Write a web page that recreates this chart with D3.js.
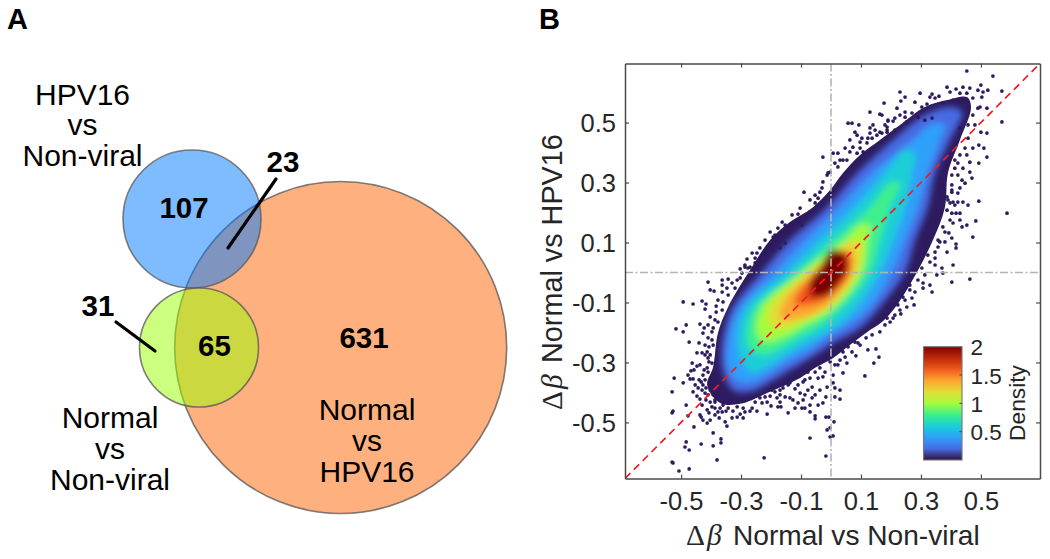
<!DOCTYPE html>
<html><head><meta charset="utf-8">
<style>html,body{margin:0;padding:0;background:#fff}svg{display:block}text{font-family:"Liberation Sans",Arial,sans-serif}</style>
<script src="https://cdn.jsdelivr.net/npm/d3@7/dist/d3.min.js"></script>
</head><body><svg id="c" width="1050" height="559"></svg>
<script>
// ---------- Panel A data ----------
const vennSets = ["Normal vs HPV16", "HPV16 vs Non-viral", "Normal vs Non-viral"];
const vennRegionLabels = ["107", "23", "31", "65", "631"];

// ---------- Panel B data ----------
const xTicks = [-0.5, -0.3, -0.1, 0.1, 0.3, 0.5];
const yTicks = [-0.5, -0.3, -0.1, 0.1, 0.3, 0.5];
const xDomain = [-0.687, 0.697];
const yDomain = [-0.687, 0.697];
const colorbarTicks = [0.5, 1, 1.5, 2];
const turboStops = ["#30123b","#466be3","#2fa0fa","#1acfd6","#3cf08c","#a4fc3c","#e1dd37","#fea531","#f05a1d","#be280a","#7a0403"];

// Iso-density outlines (delta-beta x, delta-beta y)
const densityLevels = [0.04, 0.2, 0.4, 0.6, 0.8, 1.0, 1.2, 1.4, 1.6, 1.8, 2.0];
const contour004 = [[-.413,-.375],[-.37,-.435],[-.303,-.438],[-.213,-.402],[-.103,-.352],[-.053,-.318],[.007,-.285],[.063,-.242],[.13,-.192],[.17,-.165],[.22,-.108],[.287,.002],[.34,.108],[.38,.218],[.39,.332],[.43,.442],[.467,.552],[.453,.585],[.387,.575],[.313,.552],[.23,.492],[.163,.442],[.097,.392],[.04,.332],[-.003,.275],[-.06,.218],[-.137,.168],[-.203,.108],[-.27,.008],[-.343,-.115],[-.377,-.202],[-.393,-.315]];
const contour02 = [[-.363,-.315],[-.327,-.392],[-.27,-.398],[-.203,-.365],[-.12,-.315],[-.053,-.275],[.013,-.232],[.097,-.185],[.163,-.115],[.247,.002],[.28,.108],[.323,.218],[.347,.332],[.397,.442],[.437,.535],[.397,.552],[.313,.525],[.207,.442],[.087,.332],[-.013,.218],[-.137,.108],[-.23,.002],[-.327,-.115],[-.357,-.202]];
const contour04 = [[-.343,-.315],[-.31,-.362],[-.253,-.362],[-.153,-.302],[-.07,-.258],[-.003,-.208],[.057,-.175],[.13,-.115],[.203,.002],[.247,.108],[.29,.218],[.323,.332],[.363,.442],[.38,.492],[.33,.492],[.28,.448],[.137,.332],[.03,.218],[-.087,.108],[-.187,.002],[-.303,-.115],[-.337,-.202]];
const contour06 = [[-.31,-.202],[-.297,-.292],[-.263,-.332],[-.203,-.308],[-.137,-.265],[-.063,-.225],[.007,-.185],[.087,-.115],[.163,.002],[.207,.108],[.247,.218],[.27,.332],[.28,.392],[.247,.408],[.18,.332],[.08,.218],[-.037,.108],[-.147,.002],[-.28,-.115]];
const contour08 = [[-.28,-.202],[-.27,-.252],[-.23,-.275],[-.177,-.258],[-.103,-.215],[-.047,-.185],[.04,-.115],[.13,.002],[.163,.108],[.197,.218],[.23,.298],[.197,.298],[.13,.218],[.007,.108],[-.113,.002],[-.253,-.115]];
const contour10 = [[-.247,-.202],[-.22,-.232],[-.163,-.218],[-.103,-.185],[.013,-.115],[.103,.002],[.123,.108],[.13,.158],[.097,.158],[.047,.108],[-.093,.002],[-.23,-.115]];
const contour12 = [[-.203,-.175],[-.153,-.185],[-.103,-.165],[-.003,-.115],[.09,.002],[.097,.108],[.073,.108],[-.077,.002],[-.203,-.115]];
const contour14 = [[-.17,-.152],[-.103,-.152],[-.02,-.115],[.073,.002],[.07,.075],[.04,.075],[-.06,.002],[-.153,-.092]];
const contour16 = [[-.12,-.108],[-.07,-.108],[-.02,-.092],[.063,.002],[.057,.058],[.013,.058],[-.043,.002],[-.103,-.058]];
const contour18 = [[-.077,-.082],[-.02,-.075],[.053,.002],[.05,.065],[.003,.065],[-.037,.002]];
const contour20 = [[-.063,-.072],[-.017,-.078],[.05,.008],[.047,.058],[.003,.075],[-.037,.015],[-.067,-.025]];

// Individually visible low-density points
const sparsePoints = [
[-.473,-.232],[-.44,-.235],[-.447,-.268],[-.43,-.268],[-.463,-.302],[-.447,-.312],[-.467,-.328],[-.457,-.325],[-.477,-.342],[-.523,-.352],[-.47,-.355],[-.46,-.355],[-.493,-.368],[-.453,-.375],[-.443,-.385],[-.53,-.398],[-.46,-.398],[-.43,-.392],[-.447,-.412],[-.437,-.422],[-.483,-.442],[-.527,-.462],[-.53,-.468],[-.477,-.478],[-.437,-.475],[-.433,-.482],[-.413,-.458],[-.407,-.468],[-.427,-.492],[-.413,-.502],[-.403,-.492],[-.387,-.475],[-.373,-.485],[-.353,-.498],[-.347,-.512],[-.33,-.485],[-.313,-.482],[-.293,-.485],[-.457,-.515],[-.393,-.535],[-.367,-.555],[-.367,-.568],[-.433,-.572],[-.393,-.578],[-.483,-.565],[-.487,-.582],[-.473,-.592],[-.38,-.625],[-.53,-.632],[-.527,-.635],[-.507,-.662],[-.473,-.655],[-.223,-.618],[-.413,-.265],[-.41,-.285],[-.397,-.302],[-.413,-.318],[-.42,-.358],[-.397,-.368],[-.41,-.408],[-.397,-.448],[-.377,-.465],[-.363,-.465],[-.343,-.452],[-.313,-.448],[-.293,-.452],[-.263,-.452],[-.247,-.462],[-.213,-.472],[-.36,-.442],[-.387,-.425],[-.42,-.402],
[-.2,-.445],[-.177,-.448],[-.167,-.448],[-.143,-.468],[-.12,-.452],[-.11,-.435],[-.097,-.452],[-.087,-.452],[-.07,-.465],[-.053,-.478],[-.053,-.488],[-.017,-.482],[-.007,-.482],[.01,-.498],[-.003,-.518],[-.013,-.525],[.007,-.545],[-.003,-.548],[-.07,-.552],[-.017,-.612],[-.07,-.442],[-.043,-.442],[-.027,-.435],[-.093,-.425],[-.127,-.425],[-.153,-.415],[-.17,-.408],[-.18,-.418],[-.213,-.432],[-.23,-.435],[-.22,-.415],[-.197,-.392],[-.17,-.392],[-.143,-.375],[-.12,-.388],[-.103,-.402],[-.087,-.408],[-.063,-.382],[-.037,-.392],[-.013,-.382],[.013,-.385],[.03,-.392],[.013,-.415],[.03,-.422],[.007,-.368],[.007,-.342],[.04,-.335],[.113,-.345],[.143,-.302],[.16,-.282],[.15,-.255],[.083,-.278],[.053,-.302],[.03,-.292],[.013,-.308],[.09,-.235],[.057,-.248],[.04,-.265],[.023,-.252],[.08,-.232],[-.07,-.352],[-.093,-.365],[-.043,-.352],[-.027,-.348],[-.053,-.408],
[-.493,-.098],[-.46,-.105],[-.43,-.095],[-.417,-.105],[-.42,-.122],[-.517,-.188],[-.493,-.198],[-.483,-.175],[-.437,-.172],[-.423,-.185],[-.427,-.202],[-.41,-.032],[-.403,-.058],[-.39,-.062],[-.363,-.025],[-.343,-.022],[-.363,-.042],[-.33,-.035],[-.313,-.025],[-.303,.012],[-.287,.025],[-.28,.045],[-.263,.065],[-.247,.065],[-.287,.018],[-.27,.018],[-.253,.032],[-.197,.092],[-.187,.108],[-.17,.132],[-.187,.125],[-.193,.075],[-.153,.098],[-.17,.082],[-.383,-.112],[-.377,-.092],[-.363,-.065],[-.383,-.132],[-.403,-.148],[-.387,-.158],[-.41,-.175],[-.397,-.198],[-.42,-.242],[-.41,-.218],[-.36,-.098],[-.347,-.052],[-.297,-.002],[-.237,.048],[-.22,.065],
[-.027,.385],[-.09,.268],[-.163,.168],[-.11,.195],[-.127,.165],[-.193,.118],[.13,.535],[.163,.528],[.19,.508],[.057,.498],[.07,.498],[.093,.492],[.13,.482],[.14,.492],[.187,.485],[.08,.468],[.087,.458],[.063,.442],[.097,.435],[.023,.398],[.007,.398],[.03,.375],[.047,.415],[.073,.418],[.12,.432],[.137,.448],[.153,.458],[.17,.465],[.187,.468],[-.013,.325],[-.027,.302],[-.037,.268],[-.053,.232],[-.043,.248],[-.07,.202],[-.087,.185],[-.097,.158],[-.143,.132],[-.01,.332],[.013,.365],[.053,.375],[.087,.398],[.107,.402],[.103,.448],[.13,.465],
[.453,.672],[.54,.655],[.5,.625],[.57,.605],[.387,.618],[.417,.612],[.44,.618],[.297,.598],[.23,.602],[.247,.585],[.233,.572],[.337,.595],[.36,.588],[.347,.582],[.177,.565],[.22,.548],[.17,.525],[.19,.505],[.207,.505],[.23,.525],[.303,.552],[.32,.562],[.373,.565],[.407,.575],[.453,.598],[.49,.608],[.507,.602],[.523,.608],[.503,.585],[.473,.582],[.497,.552],[.52,.548],[.57,.502],[.5,.468],[.52,.465],[.493,.425],[.51,.415],[.52,.385],[.493,.365],[.463,.335],[.47,.315],[.447,.298],[.43,.282],[.403,.275],[.363,.315],[.37,.292],[.413,.415],[.43,.392],[.423,.365],[.453,.392],[.463,.368],[.413,.348],[.44,.348],[.403,.325],[.437,.308],[.27,.532],[.247,.518],[.29,.518],[.313,.508],[.337,.515],[.213,.475],[.187,.475],[.163,.468],[.253,.502],
[.493,.238],[.587,.198],[.483,.172],[.473,.118],[.417,.095],[.417,.082],[.407,.025],[.463,-.022],[.403,-.032],[.337,-.065],[.307,-.052],[.28,-.065],[.277,-.108],[.253,-.115],[.233,-.138],[.207,-.152],[.187,-.152],[.457,.225],[.44,.235],[.423,.235],[.407,.235],[.43,.198],[.417,.198],[.403,.198],[.43,.175],[.407,.165],[.453,.158],[.437,.152],[.393,.132],[.38,.102],[.387,.068],[.363,.102],[.347,.068],[.37,.015],[.347,.025],[.373,-.002],[.353,-.008],[.33,-.042],[.307,-.035],[.263,-.058],[.24,-.082],[.223,-.108],[.187,-.115],[.423,.265],[.403,.268],[.387,.252],[.397,.232],[.387,.208],[.373,.152],[.357,.085]
];

// Dense points hugging the edge of the cloud
const edgePoints = [
[-.397,-.225],[-.407,-.248],[-.42,-.275],[-.41,-.332],[-.427,-.342],[-.433,-.365],[-.417,-.385],[-.427,-.375],[-.403,-.392],[-.393,-.408],[-.417,-.425],[-.403,-.432],[-.387,-.452],[-.37,-.452],[-.35,-.462],[-.327,-.462],[-.303,-.472],[-.287,-.465],[-.27,-.462],[-.393,-.242],[-.403,-.275],[-.407,-.298],[-.437,-.308],[-.423,-.325],[-.44,-.358],[-.387,-.432],[-.43,-.442],
[-.253,-.432],[-.237,-.418],[-.203,-.412],[-.187,-.398],[-.16,-.385],[-.137,-.368],[-.11,-.375],[-.087,-.358],[-.077,-.332],[-.053,-.332],[-.037,-.318],[-.02,-.332],[-.003,-.298],[.023,-.308],[.047,-.282],[-.137,-.418],[-.17,-.432],[-.063,-.418],[-.077,-.392],[-.017,-.415],[.07,-.265],[.097,-.242],[.117,-.218],[.137,-.208],[.163,-.198],[.18,-.175],[.197,-.165],[.213,-.142],[.123,-.258],
[.23,-.125],[.247,-.092],[.27,-.085],[.263,-.042],[.29,-.025],[.313,-.008],[.303,.015],[.33,.035],[.323,.058],[.347,.048],[.357,.108],[.38,.135],[.403,.115],[.397,.175],[.413,.225],[.39,.242],[.403,.292],[.423,.325],[.413,.375],[.447,.415],[.43,.482],[.457,.492],[.473,.525],[.49,.548],[.48,.492],[.457,.448],[.473,.415],
[.247,.535],[.213,.515],[.18,.492],[.147,.475],[.123,.448],[.097,.415],[.063,.402],[.04,.375],[.023,.352],[-.003,.335],[-.03,.282],[-.053,.258],[-.07,.242],[-.103,.215],[-.13,.192],[-.153,.158],[-.177,.148],[-.203,.135],[-.22,.108],[-.237,.082],[-.253,.048],[-.277,.015],[-.303,-.018],[-.32,-.052],[-.343,-.075],[-.363,-.125],[-.377,-.165],[-.393,-.185],[.33,.585],[.28,.568],[.397,.602],[.43,.598],[.463,.615]
];

const densityContours = [contour004,contour02,contour04,contour06,contour08,contour10,contour12,contour14,contour16,contour18,contour20];

// ---------- Drawing ----------
const svg = d3.select("#c");
const ink = "#262626";

// --- Panel letters
svg.append("text").attr("x",7).attr("y",29).attr("font-size",29).attr("font-weight","bold").attr("fill","#000").text("A");
svg.append("text").attr("x",539).attr("y",29).attr("font-size",29).attr("font-weight","bold").attr("fill","#000").text("B");

// --- Venn (layout, in page pixels; order = vennSets)
const vennLayout = [
  {cx:340.7, cy:347.5, r:166, fill:"#ff6100"},
  {cx:192,   cy:219,   r:69,  fill:"#007aff"},
  {cx:199,   cy:347.5, r:59.5,fill:"#99ff00"}
];
const gA = svg.append("g");
gA.selectAll("circle").data(vennSets).join("circle")
  .attr("cx",(d,i)=>vennLayout[i].cx).attr("cy",(d,i)=>vennLayout[i].cy).attr("r",(d,i)=>vennLayout[i].r)
  .attr("fill",(d,i)=>vennLayout[i].fill).attr("fill-opacity",0.5)
  .attr("stroke","#555").attr("stroke-opacity",0.75).attr("stroke-width",1.6);

const leaders = [[276,179,228,248],[116,322,155,351]];
gA.selectAll("line").data(leaders).join("line")
  .attr("x1",d=>d[0]).attr("y1",d=>d[1]).attr("x2",d=>d[2]).attr("y2",d=>d[3])
  .attr("stroke","#000").attr("stroke-width",3.2).attr("stroke-linecap","round");

const regionPos = [[184,218],[283,172],[98,316],[214.5,356],[364,347.5]];
gA.selectAll("text.n").data(vennRegionLabels).join("text").attr("class","n")
  .attr("x",(d,i)=>regionPos[i][0]).attr("y",(d,i)=>regionPos[i][1])
  .attr("text-anchor","middle").attr("font-size",29.5).attr("font-weight","bold").attr("fill","#000").text(d=>d);

const setLabelPos = [[367,[420,450.5,481.5]],[82.5,[105,135,165.5]],[110,[428,459,490]]];
vennSets.forEach((s,i)=>{
  const parts = s.split(" vs ");
  const lines = [parts[0],"vs",parts[1]];
  lines.forEach((t,j)=>{
    gA.append("text").attr("x",setLabelPos[i][0]).attr("y",setLabelPos[i][1][j])
      .attr("text-anchor","middle").attr("font-size",30).attr("fill","#000").text(t);
  });
});

// --- Scatter panel
const plot = {l:625, r:1040, t:63.5, b:478.5};
const x = d3.scaleLinear().domain(xDomain).range([plot.l,plot.r]);
const y = d3.scaleLinear().domain(yDomain).range([plot.b,plot.t]);
const color = d3.scaleLinear().domain(d3.range(turboStops.length).map(i=>i*0.2)).range(turboStops).interpolate(d3.interpolateRgb);

const defs = svg.append("defs");
const blur = defs.append("filter").attr("id","soft").attr("x","-30%").attr("y","-30%").attr("width","160%").attr("height","160%");
blur.append("feGaussianBlur").attr("stdDeviation",3.4);
const shape = d3.line().x(d=>x(d[0])).y(d=>y(d[1])).curve(d3.curveCatmullRomClosed.alpha(0.5));
defs.append("clipPath").attr("id","outer").append("path").attr("d",shape(contour004));
defs.append("clipPath").attr("id","frame").append("rect").attr("x",plot.l).attr("y",plot.t).attr("width",plot.r-plot.l).attr("height",plot.b-plot.t);

const gB = svg.append("g");
const pointColor = "#2e1b5f";
gB.append("path").attr("d",shape(contour004)).attr("fill",pointColor);
gB.append("g").attr("clip-path","url(#outer)")
  .append("g").attr("filter","url(#soft)")
  .selectAll("path").data(densityContours.slice(1)).join("path")
  .attr("d",shape).attr("fill",(d,i)=>color(densityLevels[i+1]));

gB.append("g").selectAll("circle").data(sparsePoints.concat(edgePoints)).join("circle")
  .attr("cx",d=>x(d[0])).attr("cy",d=>y(d[1])).attr("r",1.85).attr("fill",pointColor);

// reference lines
const refs = gB.append("g").attr("clip-path","url(#frame)");
refs.append("line").attr("x1",x(0)).attr("x2",x(0)).attr("y1",plot.t).attr("y2",plot.b)
  .attr("stroke","#b4b4b4").attr("stroke-width",1.6).attr("stroke-dasharray","8 2.5 2 2.5");
refs.append("line").attr("y1",y(0)).attr("y2",y(0)).attr("x1",plot.l).attr("x2",plot.r)
  .attr("stroke","#b4b4b4").attr("stroke-width",1.6).attr("stroke-dasharray","8 2.5 2 2.5");
refs.append("line").attr("x1",x(xDomain[0])).attr("y1",y(yDomain[0])).attr("x2",x(xDomain[1])).attr("y2",y(yDomain[1]))
  .attr("stroke","#ee1c25").attr("stroke-width",1.7).attr("stroke-dasharray","7.5 5");

// frame + axes
function styleAxis(g){
  g.select(".domain").attr("stroke","#4a4a4a").attr("stroke-width",1.5);
  g.selectAll(".tick line").attr("stroke","#4a4a4a").attr("stroke-width",1.2);
}
const fmt = d=>String(d);
const axB = gB.append("g").attr("transform",`translate(0,${plot.b})`).call(d3.axisBottom(x).tickValues(xTicks).tickSize(-4).tickSizeOuter(0).tickFormat(fmt)).call(styleAxis);
axB.selectAll("text").attr("y",31.5).attr("dy",0).attr("font-size",25.5).attr("fill",ink).style("font-family",'"Liberation Sans"');
const axL = gB.append("g").attr("transform",`translate(${plot.l},0)`).call(d3.axisLeft(y).tickValues(yTicks).tickSize(-4).tickSizeOuter(0).tickFormat(fmt)).call(styleAxis);
axL.selectAll("text").attr("x",-9).attr("dy",9).attr("font-size",25.5).attr("fill",ink).style("font-family",'"Liberation Sans"');
gB.append("g").attr("transform",`translate(0,${plot.t})`).call(d3.axisTop(x).tickValues(xTicks).tickSize(-4).tickSizeOuter(0).tickFormat("")).call(styleAxis);
gB.append("g").attr("transform",`translate(${plot.r},0)`).call(d3.axisRight(y).tickValues(yTicks).tickSize(-4).tickSizeOuter(0).tickFormat("")).call(styleAxis);

// axis titles
function deltaTitle(sel,rest,restX,size){
  sel.append("tspan").attr("font-family",'"Liberation Serif"').text("Δ");
  sel.append("tspan").attr("font-family",'"Liberation Serif"').attr("font-style","italic").attr("dx",2).text("β");
  sel.append("tspan").attr("x",restX).attr("font-size",size).text(rest);
}
gB.append("text").attr("x",686).attr("y",545).attr("font-size",29.5).attr("fill",ink)
  .call(deltaTitle,"Normal vs Non-viral",733,28.1);
gB.append("g").attr("transform","translate(562,410) rotate(-90)")
  .append("text").attr("x",0).attr("y",0).attr("font-size",29.5).attr("fill",ink)
  .call(deltaTitle,"Normal vs HPV16",47,28.8);

// colorbar
const cb = {x0:923.5, x1:962, y0:460, y1:346.7};
const cScale = d3.scaleLinear().domain([0,2]).range([cb.y0,cb.y1]);
const grad = defs.append("linearGradient").attr("id","cbGrad").attr("x1",0).attr("x2",0).attr("y1",1).attr("y2",0);
grad.selectAll("stop").data(turboStops).join("stop")
  .attr("offset",(d,i)=>i/(turboStops.length-1)).attr("stop-color",d=>d);
const gC = svg.append("g");
gC.append("rect").attr("x",cb.x0).attr("y",cb.y1).attr("width",cb.x1-cb.x0).attr("height",cb.y0-cb.y1)
  .attr("fill","url(#cbGrad)").attr("stroke","#777").attr("stroke-width",1.1);
gC.selectAll("line").data(colorbarTicks.filter(t=>t<2)).join("line")
  .attr("x1",cb.x1-2.5).attr("x2",cb.x1).attr("y1",d=>cScale(d)).attr("y2",d=>cScale(d)).attr("stroke","#444").attr("stroke-width",1);
gC.selectAll("text.t").data(colorbarTicks).join("text").attr("class","t")
  .attr("x",970.5).attr("y",d=>cScale(d)+8.5).attr("font-size",22.5).attr("fill",ink).text(d=>d);
gC.append("text").attr("transform","translate(1025,403) rotate(-90)").attr("text-anchor","middle")
  .attr("font-size",22.8).attr("fill",ink).text("Density");
</script></body></html>
